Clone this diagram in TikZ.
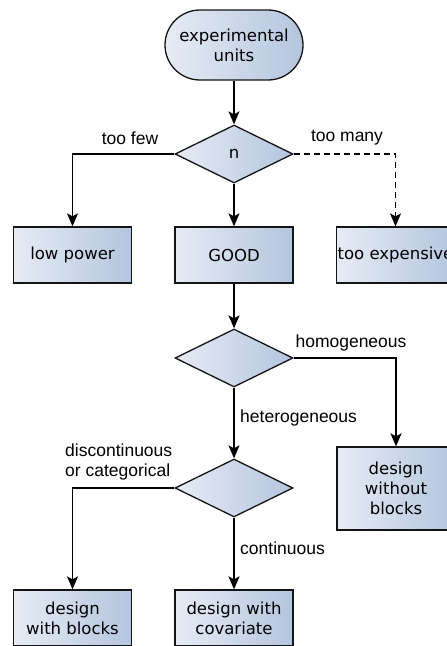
\documentclass[tikz,border=0pt]{standalone}
\usepackage{fontspec}
\setmainfont{DejaVu Sans}
\newfontfamily\labelfont{Liberation Sans}
\usetikzlibrary{shapes.geometric,arrows.meta}
\definecolor{fillL}{HTML}{E6ECF5}
\definecolor{fillR}{HTML}{B4C5DE}
\definecolor{edge}{HTML}{141414}
\tikzset{
  base/.style={draw=edge, line width=1.3pt, left color=fillL, right color=fillR,
    inner sep=0pt, font=\fontsize{16.5}{20}\selectfont, align=center, text=black},
  terminal/.style={base, rectangle, rounded corners=35pt, minimum width=138pt, minimum height=70pt},
  process/.style={base, rectangle, minimum width=118pt, minimum height=56pt},
  tallprocess/.style={base, rectangle, minimum width=118pt, minimum height=83pt},
  decision/.style={base, diamond, aspect=2, minimum width=118pt, minimum height=58pt},
  flow/.style={draw=black, line width=1.6pt, -{Stealth[length=13pt,width=11pt,inset=3pt]}},
  dashflow/.style={flow, dash pattern=on 6pt off 4pt},
  lbl/.style={font=\labelfont\fontsize{17.5}{20}\selectfont, inner sep=0pt, text=black}
}
\begin{document}
\begin{tikzpicture}[x=1pt, y=-1pt]
\useasboundingbox (0,0) rectangle (447,646);
\clip (0,0) rectangle (447,646);

% nodes
\node[terminal] (units) at (234,45) {experimental\\units};
\node[decision] (n) at (234,154) {n};
\node[process] (low) at (72.5,255) {low power};
\node[process] (good) at (234,255) {GOOD};
\node[process] (exp) at (395.5,255) {too expensive};
\node[decision] (homo) at (234,358) {};
\node[tallprocess] (noblk) at (396,488.5) {design\\without\\blocks};
\node[decision] (cont) at (234,488) {};
\node[process] (blk) at (72.5,618) {design\\with blocks};
\node[process] (cov) at (234,618) {design with\\covariate};

% connectors
\draw[flow] (units) -- (n);
\draw[flow] (n.west) -| (low.north);
\draw[flow] (n) -- (good);
\draw[dashflow] (n.east) -| (exp.north);
\draw[flow] (good) -- (homo);
\draw[flow] (homo.east) -| (noblk.north);
\draw[flow] (homo) -- (cont);
\draw[flow] (cont.west) -| (blk.north);
\draw[flow] (cont) -- (cov);

% branch labels
\node[lbl] (few) at (130,138) {too few};
\node[lbl] (many) at (347,138) {too many};
\node[lbl] (hom) at (351,343) {homogeneous};
\node[lbl, anchor=west] (het) at (240,418) {heterogeneous};
\node[lbl, align=left, anchor=west] (disc) at (65,462) {discontinuous\\or categorical};
\node[lbl, anchor=west] (con) at (240,548) {continuous};
\end{tikzpicture}
\end{document}
